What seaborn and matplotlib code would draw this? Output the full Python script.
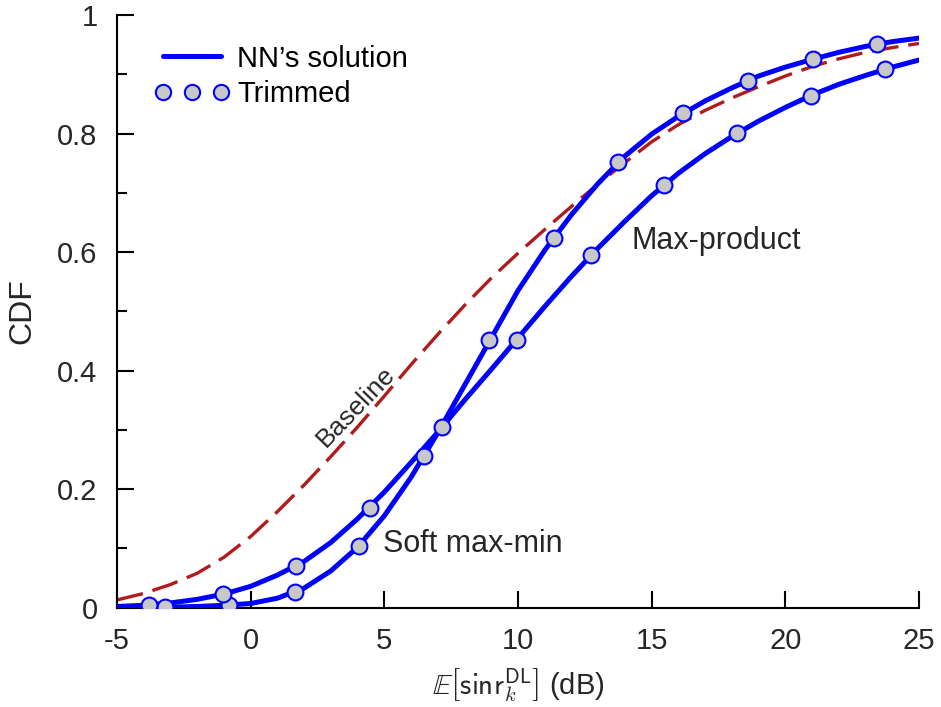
import numpy as np
import pandas as pd
import matplotlib
matplotlib.use("Agg")
import matplotlib.pyplot as plt
from matplotlib.lines import Line2D
from matplotlib.ticker import MultipleLocator, FixedLocator
import seaborn as sns

# ---------------- data ----------------
x_line = list(range(-5, 26))
soft_maxmin_line = [0.0, 0.0005, 0.001, 0.002, 0.004, 0.007, 0.016, 0.033, 0.062, 0.102,
                    0.155, 0.22, 0.295, 0.375, 0.455, 0.535, 0.603, 0.663, 0.716, 0.762,
                    0.799, 0.829, 0.855, 0.877, 0.897, 0.912, 0.925, 0.937, 0.947, 0.955, 0.961]
max_product_line = [0.002, 0.004, 0.008, 0.014, 0.023, 0.036, 0.055, 0.078, 0.11, 0.15,
                    0.195, 0.245, 0.296, 0.35, 0.402, 0.455, 0.508, 0.559, 0.607, 0.652,
                    0.695, 0.733, 0.766, 0.795, 0.821, 0.844, 0.865, 0.883, 0.898, 0.912, 0.924]
baseline_line = [0.013, 0.024, 0.039, 0.058, 0.085, 0.12, 0.162, 0.207, 0.255, 0.305,
                 0.357, 0.41, 0.461, 0.51, 0.556, 0.598, 0.638, 0.677, 0.715, 0.751,
                 0.786, 0.815, 0.839, 0.86, 0.879, 0.897, 0.913, 0.926, 0.937, 0.945, 0.952]

soft_maxmin_trim_x = [-3.2, -0.81, 1.66, 4.05, 6.49, 8.91, 11.34, 13.75, 16.19, 18.6, 21.03, 23.44]
soft_maxmin_trim_y = [0.001, 0.0045, 0.027, 0.104, 0.2565, 0.452, 0.624, 0.7515, 0.835, 0.888, 0.925, 0.9506]
max_product_trim_x = [-3.8, -1.05, 1.71, 4.45, 7.17, 9.95, 12.72, 15.46, 18.21, 20.95, 23.72]
max_product_trim_y = [0.0045, 0.023, 0.0709, 0.1687, 0.305, 0.452, 0.5956, 0.7133, 0.8014, 0.8638, 0.9089]

x_ticks = [-5, 0, 5, 10, 15, 20, 25]
y_ticks = [0, 0.2, 0.4, 0.6, 0.8, 1]
y_tick_labels = ["0", "0.2", "0.4", "0.6", "0.8", "1"]

# ---------------- style ----------------
sns.set_theme(style="ticks")
plt.rcParams["font.family"] = ["Liberation Sans", "DejaVu Sans"]
plt.rcParams["axes.unicode_minus"] = False
plt.rcParams["mathtext.fontset"] = "cm"

BLUE = "#0000ff"
RED = "#b01b1b"
TXT = "#262626"
FS = 21

fig = plt.figure(figsize=(9.41, 7.07), dpi=100)
ax = fig.add_axes([0.1243, 0.1405, 0.8523, 0.8383])

df_sm = pd.DataFrame({"x": x_line, "y": soft_maxmin_line})
df_mp = pd.DataFrame({"x": x_line, "y": max_product_line})
df_bl = pd.DataFrame({"x": x_line, "y": baseline_line})

sns.lineplot(data=df_bl, x="x", y="y", ax=ax, color=RED, lw=2.4,
             estimator=None, sort=True, zorder=2)
ax.lines[-1].set_dashes([8, 3])
sns.lineplot(data=df_sm, x="x", y="y", ax=ax, color=BLUE, lw=3.6, estimator=None, zorder=3)
sns.lineplot(data=df_mp, x="x", y="y", ax=ax, color=BLUE, lw=3.6, estimator=None, zorder=3)

mk = dict(marker="o", s=130, facecolor="#c8c8c8", edgecolor=BLUE, linewidth=1.5, zorder=4)
sns.scatterplot(x=soft_maxmin_trim_x, y=soft_maxmin_trim_y, ax=ax, **mk)
sns.scatterplot(x=max_product_trim_x, y=max_product_trim_y, ax=ax, **mk)

ax.set_xlim(-5, 25)
ax.set_ylim(0, 1)
ax.xaxis.set_major_locator(FixedLocator(x_ticks))
ax.yaxis.set_major_locator(FixedLocator(y_ticks))
ax.set_yticklabels(y_tick_labels)
ax.yaxis.set_minor_locator(MultipleLocator(0.1))

for side in ["top", "right"]:
    ax.spines[side].set_visible(False)
for side in ["left", "bottom"]:
    ax.spines[side].set_linewidth(1.5)
    ax.spines[side].set_color("black")

ax.tick_params(axis="both", which="major", direction="in", length=12.5, width=1.5,
               labelsize=FS, pad=14, colors="black", labelcolor=TXT)
ax.tick_params(axis="y", which="minor", direction="in", length=7, width=1.5, colors="black")

ax.set_xlabel(r"$\mathbb{E}\left[\mathsf{sinr}_{k}^{\mathsf{DL}}\right]$ (dB)", fontsize=FS, color=TXT, labelpad=8)
ax.set_ylabel("CDF", fontsize=FS + 2, color=TXT, labelpad=14)

ax.text(14.23, 0.606, "Max-product", fontsize=FS + 1, color=TXT, ha="left", va="baseline")
ax.text(4.94, 0.094, "Soft max-min", fontsize=FS + 1, color=TXT, ha="left", va="baseline")
ax.text(3.95, 0.339, "Baseline", fontsize=19, color=TXT, ha="center", va="center",
        rotation=46, rotation_mode="anchor")

handles = [Line2D([], [], color=BLUE, lw=3.6),
           Line2D([], [], color=BLUE, ls="none", marker="o", markersize=11,
                  markerfacecolor="#c8c8c8", markeredgecolor=BLUE, markeredgewidth=1.5)]
leg = ax.legend(handles, ["NN\u2019s solution", "Trimmed"], loc="upper left",
                bbox_to_anchor=(0.046, 0.95), frameon=False, fontsize=FS,
                handlelength=2.6, handletextpad=0.25, labelspacing=0.27,
                borderpad=0, borderaxespad=0, numpoints=3)
for t in leg.get_texts():
    t.set_color("black")

fig.savefig("out.png", dpi=100)
